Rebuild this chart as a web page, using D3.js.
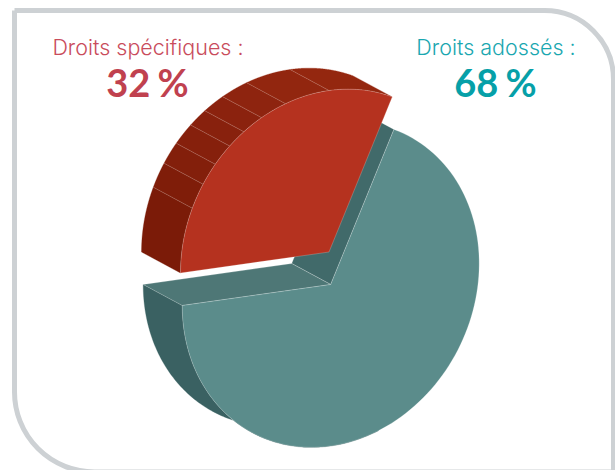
<!DOCTYPE html>
<html>
<head>
<meta charset="utf-8">
<script src="https://cdn.jsdelivr.net/npm/d3@7"></script>
<style>
html,body{margin:0;padding:0;background:#fff}
svg{display:block}
</style>
</head>
<body>
<svg id="chart" width="615" height="470"></svg>
<script>
// Shares of the two kinds of rights
const categories = ["Droits spécifiques :", "Droits adossés :"];
const shares = [32, 68];
const shareLabels = ["32 %", "68 %"];
// Ribs on the rim of the detached slice, in degrees along its arc
const ribDegrees = [23, 32, 40, 48, 55, 63, 73, 90];
// Rim shades of the detached slice, one per panel between ribs
const rimShades = ["#7b1b08", "#7f1d09", "#831f0b", "#86200c", "#88210d", "#8b220e", "#8e240f", "#92260f", "#94270f"];

const svg = d3.select("#chart");

// Oblique projection of the unit pie onto the page
const axisA = [-148.5, 21];
const axisB = [0, -161.5];
const depth = [-39, -21];
const centreMain = [330.7, 284.5];
const centreSlice = [329, 252];

const pieAngles = d3.pie().sort(null).startAngle(0).endAngle(2 * Math.PI)(shares);
const [sliceArc, mainArc] = pieAngles;

const project = (centre, angle, radius = 1, lift = 0) => [
  centre[0] + radius * (axisA[0] * Math.cos(angle) + axisB[0] * Math.sin(angle)) + lift * depth[0],
  centre[1] + radius * (axisA[1] * Math.cos(angle) + axisB[1] * Math.sin(angle)) + lift * depth[1]
];

const line = d3.line();
const arcPoints = (centre, from, to, lift = 0) =>
  d3.range(0, 121).map(i => project(centre, from + (to - from) * i / 120, 1, lift));

const edge = { stroke: "#fff", "stroke-opacity": 0.35, "stroke-width": 0.6 };
function shape(points, fill, stroked = true) {
  const p = svg.append("path")
    .attr("d", line(points) + "Z")
    .attr("fill", fill);
  if (stroked) Object.entries(edge).forEach(([k, v]) => p.attr(k, v));
  else p.attr("stroke", fill).attr("stroke-width", 0.3);
  return p;
}
function wall(centre, from, to, fill, stroked = false) {
  return shape(arcPoints(centre, from, to).concat(arcPoints(centre, to, from, 1)), fill, stroked);
}

// Frame around the chart, its bottom edge running along the page edge
const frame = d3.path();
frame.moveTo(14.5, 10.5);
frame.lineTo(544.5, 10.5);
frame.arcTo(613.5, 10.5, 613.5, 79.5, 69);
frame.lineTo(613.5, 480);
frame.moveTo(14.5, 10.5);
frame.lineTo(14.5, 392);
frame.arcTo(14.5, 472, 94.5, 472, 80);
frame.lineTo(620, 472);
svg.append("path").attr("d", frame.toString())
  .attr("fill", "none").attr("stroke", "#cdd1d4").attr("stroke-width", 5);

// Main slice: outer wall, the two cut faces, then the top
const mainEnd = mainArc.endAngle, mainStart = mainArc.startAngle;
wall(centreMain, mainEnd - 1.9, mainEnd, "#3a6162");
const cm = centreMain;
const backCm = project(cm, 0, 0, 1);
const ptEnd = project(cm, mainEnd), ptStart = project(cm, mainStart);
shape([cm, ptStart, project(cm, mainStart, 1, 1), backCm], "#416a6a");
shape([cm, ptEnd, project(cm, mainEnd, 1, 1), backCm], "#4e7776");
shape([cm].concat(arcPoints(cm, mainStart, mainEnd)), "#5b8c8b");

// Detached slice: ribbed rim, then the top
const ribs = [sliceArc.startAngle, ...ribDegrees.map(d => d * Math.PI / 180), sliceArc.endAngle];
d3.pairs(ribs).forEach(([from, to], i) => wall(centreSlice, from, to, rimShades[i]));
ribs.slice(1, -1).forEach(a => {
  svg.append("line")
    .attr("x1", project(centreSlice, a)[0]).attr("y1", project(centreSlice, a)[1])
    .attr("x2", project(centreSlice, a, 1, 1)[0]).attr("y2", project(centreSlice, a, 1, 1)[1])
    .attr("stroke", "#fff").attr("stroke-opacity", 0.3).attr("stroke-width", 0.6);
});
shape([centreSlice].concat(arcPoints(centreSlice, sliceArc.startAngle, sliceArc.endAngle)), "#b5321f");

// Captions above the pie
const captionX = [148, 496];
const captionColours = ["#c94c5c", "#1aa7b0"];
const figureColours = ["#c0414f", "#06a0a8"];
categories.forEach((c, i) => {
  svg.append("text").attr("x", captionX[i]).attr("y", 55)
    .attr("text-anchor", "middle")
    .attr("font-family", "Inter, sans-serif").attr("font-weight", 300)
    .attr("font-size", 21.5).attr("fill", captionColours[i]).text(c);
  svg.append("text").attr("x", captionX[i] - 0.5).attr("y", 96.5)
    .attr("text-anchor", "middle")
    .attr("font-family", "Lato, sans-serif").attr("font-weight", 700)
    .attr("font-size", 38).attr("word-spacing", -2).attr("fill", figureColours[i]).text(shareLabels[i]);
});
</script>
</body>
</html>
